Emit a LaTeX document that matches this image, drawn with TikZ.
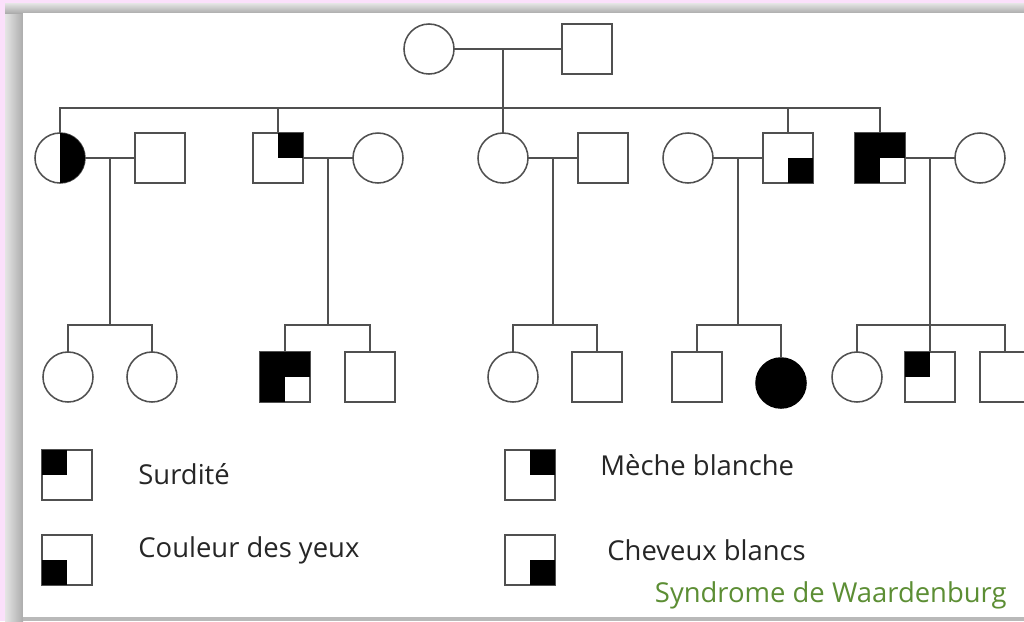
\documentclass[tikz,border=0pt]{standalone}
\usepackage{fontspec}
\setmainfont{Open Sans}
\usetikzlibrary{positioning,calc}

\definecolor{bgpink}{RGB}{251,224,251}
\definecolor{lines}{RGB}{80,80,80}
\definecolor{waard}{RGB}{92,142,52}

% quarter fills of a square node
\newcommand{\qTL}[1]{\fill (#1.north west) rectangle (#1.center);}
\newcommand{\qTR}[1]{\fill (#1.north east) rectangle (#1.center);}
\newcommand{\qBL}[1]{\fill (#1.south west) rectangle (#1.center);}
\newcommand{\qBR}[1]{\fill (#1.south east) rectangle (#1.center);}

\begin{document}
\begin{tikzpicture}[x=0.025cm, y=-0.025cm, semithick]
\tikzstyle{fem}=[circle,draw=lines,line width=1.1pt,minimum size=1.25cm,inner sep=0pt,outer sep=0pt]
\tikzstyle{masc}=[rectangle,draw=lines,line width=1.1pt,minimum size=1.25cm,inner sep=0pt,outer sep=0pt]
\tikzstyle{lien}=[draw=lines,line width=1.1pt]
\tikzstyle{legende}=[anchor=west,inner sep=0pt,text=black!85,font=\fontsize{19.5}{22}\selectfont]

\clip (0,0) rectangle (1024,621);
\fill[bgpink] (0,0) rectangle (1024,621);
\shade[left color=gray!20,right color=gray!65] (5,3) rectangle (23,621);
\shade[top color=gray!20,bottom color=gray!65] (5,3) rectangle (1024,13);
\fill[gray!55] (23,617) rectangle (1024,621);
\fill[white] (23,13) rectangle (1024,617);

% generation I
\node[fem]  (I1) at (429,49) {};
\node[masc] (I2) at (587,49) {};

% generation II
\node[fem]  (A1) at (60,158)  {};
\node[masc] (A2) at (160,158) {};
\node[masc] (B1) at (278,158) {};
\node[fem]  (B2) at (378,158) {};
\node[fem]  (C1) at (503,158) {};
\node[masc] (C2) at (603,158) {};
\node[fem]  (D2) at (688,158) {};
\node[masc] (D1) at (788,158) {};
\node[masc] (E1) at (880,158) {};
\node[fem]  (E2) at (980,158) {};

% generation III
\node[fem]  (A3) at (68,377)  {};
\node[fem]  (A4) at (152,377) {};
\node[masc] (B3) at (285,377) {};
\node[masc] (B4) at (370,377) {};
\node[fem]  (C3) at (513,377) {};
\node[masc] (C4) at (597,377) {};
\node[masc] (D3) at (697,377) {};
\node[fem,fill=black,draw=black] (D4) at (781,383) {};
\node[fem]  (E3) at (857,377) {};
\node[masc] (E4) at (930,377) {};
\node[masc] (E5) at (1005,377) {};

% fills
\fill (A1.north) arc[start angle=90,end angle=-90,radius=0.625cm] -- cycle;
\qTR{B1}
\qBR{D1}
\qTL{E1} \qTR{E1} \qBL{E1}
\qTL{B3} \qTR{B3} \qBL{B3}
\qTL{E4}

% couples and descent
\coordinate (jI) at (C1 |- I1);
\coordinate (sII) at (503,108);
\draw[lien] (I1) -- (I2);
\draw[lien] (jI) -- (C1.north);
\draw[lien] (A1.north) |- (sII) -| (E1.north);
\draw[lien] (B1.north) -- (B1.north |- sII);
\draw[lien] (D1.north) -- (D1.north |- sII);

\foreach \f in {A,B,C,D,E}{
  \coordinate (j\f) at ($(\f1)!0.5!(\f2)$);
  \coordinate (s\f) at ($(j\f)+(0,167)$);
  \draw[lien] (\f1) -- (\f2);
  \draw[lien] (j\f) -- (s\f);
}
\draw[lien] (A3.north) |- (sA) -| (A4.north);
\draw[lien] (B3.north) |- (sB) -| (B4.north);
\draw[lien] (C3.north) |- (sC) -| (C4.north);
\draw[lien] (D3.north) |- (sD) -| (D4.north);
\draw[lien] (E3.north) |- (sE) -| (E5.north);
\draw[lien] (sE) -- (E4.north);

% legend
\node[masc] (L1) at (67,475)  {};
\node[masc] (L2) at (67,560)  {};
\node[masc] (L3) at (530,475) {};
\node[masc] (L4) at (530,560) {};
\qTL{L1} \qBL{L2} \qTR{L3} \qBR{L4}
\node[legende] (T1) at (138,474) {Surdité};
\node[legende] (T2) at (138,550) {Couleur des yeux};
\node[legende] (T3) at (600,465) {Mèche blanche};
\node[legende] (T4) at (607,550) {Cheveux blancs};
\node[legende,anchor=east,text=waard] (T5) at (1007,595) {Syndrome de Waardenburg};
\end{tikzpicture}
\end{document}
